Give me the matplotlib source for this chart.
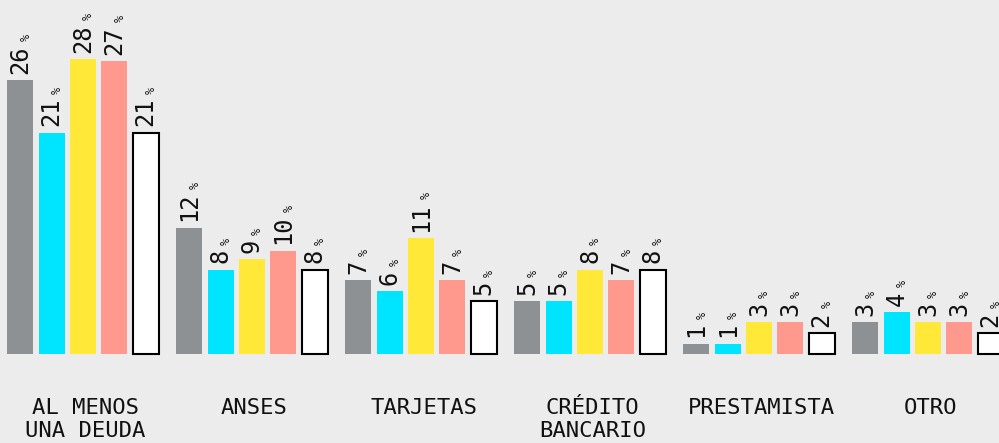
import matplotlib.pyplot as plt
import numpy as np

# datos (porcentajes)
categorias = ['AL MENOS\nUNA DEUDA', 'ANSES', 'TARJETAS', 'CRÉDITO\nBANCARIO', 'PRESTAMISTA', 'OTRO']
serie_gris = [26, 12, 7, 5, 1, 3]
serie_cian = [21, 8, 6, 5, 1, 4]
serie_amarilla = [28, 9, 11, 8, 3, 3]
serie_salmon = [27.8, 9.8, 7, 7, 3, 3]
serie_blanca = [21, 8, 5, 8, 2, 2]

# textos que muestra cada barra
etiq_gris = ['26', '12', '7', '5', '1', '3']
etiq_cian = ['21', '8', '6', '5', '1', '4']
etiq_amarilla = ['28', '9', '11', '8', '3', '3']
etiq_salmon = ['27', '10', '7', '7', '3', '3']
etiq_blanca = ['21', '8', '5', '8', '2', '2']

series = [serie_gris, serie_cian, serie_amarilla, serie_salmon, serie_blanca]
etiquetas = [etiq_gris, etiq_cian, etiq_amarilla, etiq_salmon, etiq_blanca]
colores = ['#8e9193', '#00e5ff', '#ffe838', '#ff998d', '#ffffff']
bordes = [None, None, None, None, 'black']

fondo = '#ececec'
fuente = 'DejaVu Sans Mono'

fig = plt.figure(figsize=(9.99, 4.43), dpi=100, facecolor=fondo)
ax = fig.add_axes([0, 0, 1, 1])
ax.set_facecolor(fondo)

x = np.arange(len(categorias))
paso = 0.185  # distancia entre barras de un grupo
ancho = 0.154

for i, (vals, etq, col, bor) in enumerate(zip(series, etiquetas, colores, bordes)):
    pos = x + (i - 2) * paso
    if bor:
        ax.bar(pos, vals, ancho, color=col, edgecolor=bor, linewidth=1.5, zorder=2)
    else:
        ax.bar(pos, vals, ancho, color=col, linewidth=0, zorder=2)
    for xp, v, s in zip(pos, vals, etq):
        fs = 17
        ax.annotate(s, (xp, v), xytext=(0, 4.5), textcoords='offset points',
                    rotation=90, ha='center', va='bottom', fontsize=fs,
                    family=fuente, color='#111111', zorder=3)
        # el signo % chico arriba del numero
        largo = len(s) * 0.602 * fs
        ax.annotate('%', (xp, v), xytext=(4, 4.5 + largo + 3), textcoords='offset points',
                    rotation=90, ha='center', va='bottom', fontsize=8.5,
                    family=fuente, color='#111111', zorder=3)

# etiquetas de categorias debajo de las barras
for xp, cat in zip(x, categorias):
    ax.text(xp + 0.015, -4.15, cat, ha='center', va='top', fontsize=16,
            family=fuente, color='#111111', linespacing=1.2)

ax.set_xlim(-0.491, 5.42)
ax.set_ylim(-8.44, 33.59)
ax.axis('off')

plt.savefig('out.png', dpi=100, facecolor=fondo)
